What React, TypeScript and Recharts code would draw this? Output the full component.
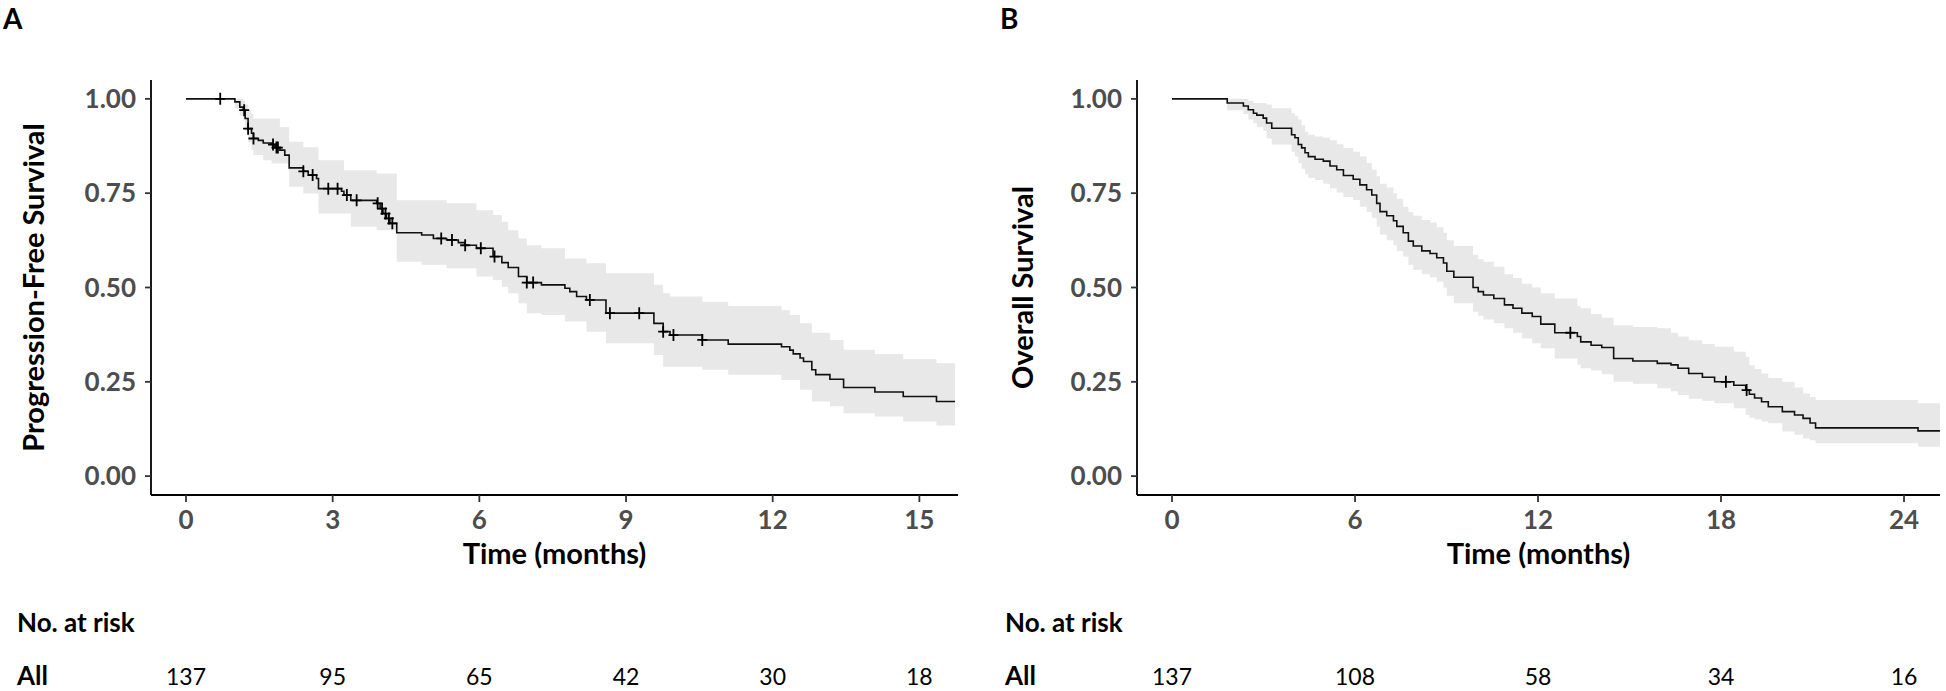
import { Area, ComposedChart, Label, Line, Scatter, XAxis, YAxis } from 'recharts';

const FONT = 'Lato, "Open Sans", sans-serif';
const TICK_GREY = '#4d4d4d';
const BAND = '#e8e8e8';

// Panel A: progression-free survival (months, KM estimate, 95% CI)
const pfsTime = [
  0, 1.0, 1.1, 1.17, 1.21, 1.27, 1.34, 1.38, 1.48, 1.58, 1.75, 1.82, 1.92, 2.02, 2.11, 2.4, 2.5,
  2.67, 2.71, 3.18, 3.23, 3.37, 3.9, 3.97, 4.03, 4.1, 4.17, 4.31, 4.82, 5.06, 5.33, 5.57, 5.71,
  5.94, 6.28, 6.46, 6.59, 6.8, 6.97, 7.27, 7.75, 7.85, 7.99, 8.19, 8.59, 9.57, 9.76, 9.9, 10.56,
  11.09, 12.18, 12.35, 12.42, 12.56, 12.63, 12.8, 12.88, 13.17, 13.45, 14.09, 14.67, 15.35, 15.73,
];
const pfsSurv = [
  1, 0.992, 0.978, 0.97, 0.948, 0.921, 0.909, 0.895, 0.89, 0.883, 0.879, 0.871, 0.864, 0.851,
  0.817, 0.808, 0.798, 0.789, 0.762, 0.755, 0.745, 0.731, 0.723, 0.709, 0.696, 0.683, 0.67, 0.645,
  0.639, 0.63, 0.626, 0.619, 0.612, 0.604, 0.582, 0.566, 0.553, 0.529, 0.513, 0.507, 0.498, 0.489,
  0.476, 0.467, 0.432, 0.405, 0.383, 0.374, 0.361, 0.35, 0.343, 0.334, 0.324, 0.313, 0.304, 0.282,
  0.269, 0.257, 0.235, 0.223, 0.211, 0.198, 0.198,
];
const pfsLower = [
  1, 0.975, 0.955, 0.945, 0.915, 0.885, 0.865, 0.851, 0.851, 0.837, 0.829, 0.829, 0.829, 0.829,
  0.767, 0.749, 0.749, 0.749, 0.696, 0.696, 0.696, 0.661, 0.652, 0.652, 0.652, 0.652, 0.652, 0.568,
  0.56, 0.56, 0.551, 0.551, 0.551, 0.529, 0.52, 0.502, 0.485, 0.458, 0.432, 0.427, 0.41, 0.41,
  0.41, 0.383, 0.352, 0.321, 0.29, 0.29, 0.282, 0.269, 0.255, 0.255, 0.255, 0.229, 0.229, 0.198,
  0.198, 0.185, 0.167, 0.158, 0.145, 0.134, 0.134,
];
const pfsUpper = [
  1, 1, 1, 0.995, 0.985, 0.97, 0.96, 0.948, 0.948, 0.948, 0.948, 0.948, 0.925, 0.925, 0.886,
  0.872, 0.872, 0.872, 0.837, 0.837, 0.811, 0.811, 0.802, 0.802, 0.802, 0.802, 0.802, 0.731, 0.731,
  0.731, 0.723, 0.723, 0.723, 0.705, 0.692, 0.674, 0.652, 0.63, 0.612, 0.604, 0.577, 0.577, 0.577,
  0.564, 0.538, 0.507, 0.485, 0.476, 0.462, 0.451, 0.44, 0.427, 0.427, 0.405, 0.405, 0.38, 0.38,
  0.361, 0.335, 0.324, 0.31, 0.299, 0.299,
];
const pfsCensor = [
  0.7, 1.19, 1.27, 1.38, 1.78, 1.85, 1.88, 2.4, 2.59, 2.91, 3.1, 3.29, 3.49, 3.92, 4.01, 4.08,
  4.15, 4.22, 5.22, 5.44, 5.71, 6.03, 6.31, 6.97, 7.1, 8.26, 8.67, 9.27, 9.76, 9.97, 10.56,
];

// Panel B: overall survival
const osTime = [
  0, 1.81, 2.34, 2.5, 2.67, 2.78, 2.99, 3.1, 3.27, 3.92, 4.03, 4.14, 4.25, 4.36, 4.47, 4.69, 4.96,
  5.18, 5.4, 5.62, 5.94, 6.16, 6.38, 6.55, 6.71, 6.82, 7.04, 7.26, 7.37, 7.58, 7.75, 7.91, 8.19,
  8.46, 8.68, 8.9, 9.01, 9.24, 9.87, 10.04, 10.21, 10.55, 10.9, 11.18, 11.47, 11.81, 12.09, 12.55,
  13.29, 13.4, 13.74, 14.09, 14.48, 15.11, 15.91, 16.36, 16.59, 16.94, 17.39, 17.79, 18.42, 18.81,
  18.93, 19.1, 19.33, 19.55, 20.01, 20.41, 20.69, 20.92, 21.1, 24.46, 25.18,
];
const osSurv = [
  1, 0.989, 0.981, 0.971, 0.962, 0.957, 0.949, 0.936, 0.922, 0.905, 0.897, 0.879, 0.87, 0.857,
  0.847, 0.84, 0.835, 0.822, 0.812, 0.797, 0.787, 0.772, 0.759, 0.745, 0.723, 0.701, 0.69, 0.677,
  0.662, 0.645, 0.623, 0.61, 0.597, 0.59, 0.579, 0.565, 0.543, 0.527, 0.5, 0.489, 0.48, 0.471,
  0.454, 0.445, 0.432, 0.423, 0.403, 0.38, 0.37, 0.356, 0.347, 0.341, 0.312, 0.305, 0.299, 0.295,
  0.286, 0.272, 0.262, 0.25, 0.241, 0.228, 0.217, 0.207, 0.197, 0.184, 0.171, 0.162, 0.153, 0.141,
  0.128, 0.12, 0.12,
];
const osLower = [
  1, 0.97, 0.96, 0.945, 0.936, 0.925, 0.915, 0.895, 0.879, 0.86, 0.847, 0.83, 0.815, 0.8, 0.79,
  0.785, 0.775, 0.763, 0.752, 0.74, 0.732, 0.714, 0.7, 0.685, 0.662, 0.64, 0.625, 0.612, 0.597,
  0.582, 0.56, 0.547, 0.535, 0.527, 0.515, 0.5, 0.478, 0.458, 0.436, 0.425, 0.415, 0.405, 0.392,
  0.38, 0.365, 0.352, 0.339, 0.312, 0.295, 0.286, 0.28, 0.27, 0.25, 0.245, 0.233, 0.225, 0.215,
  0.205, 0.2, 0.193, 0.18, 0.162, 0.155, 0.15, 0.145, 0.14, 0.118, 0.11, 0.1, 0.095, 0.087, 0.078,
  0.078,
];
const osUpper = [
  1, 1, 1, 0.995, 0.989, 0.989, 0.989, 0.985, 0.975, 0.962, 0.955, 0.945, 0.93, 0.913, 0.905, 0.9,
  0.897, 0.89, 0.88, 0.87, 0.86, 0.847, 0.83, 0.812, 0.795, 0.775, 0.765, 0.75, 0.735, 0.714, 0.7,
  0.69, 0.679, 0.672, 0.66, 0.645, 0.625, 0.61, 0.586, 0.575, 0.568, 0.555, 0.535, 0.525, 0.51,
  0.5, 0.485, 0.471, 0.45, 0.445, 0.43, 0.42, 0.4, 0.395, 0.392, 0.38, 0.37, 0.36, 0.35, 0.343,
  0.33, 0.316, 0.294, 0.284, 0.272, 0.26, 0.25, 0.235, 0.219, 0.21, 0.202, 0.193, 0.193,
];
const osCensor = [13.06, 18.16, 18.84];

// Numbers at risk
const pfsRiskTimes = [0, 3, 6, 9, 12, 15];
const pfsRiskCounts = [137, 95, 65, 42, 30, 18];
const osRiskTimes = [0, 6, 12, 18, 24];
const osRiskCounts = [137, 108, 58, 34, 16];

const yTicks = [0, 0.25, 0.5, 0.75, 1];

function buildCurve(time: number[], surv: number[], lo: number[], hi: number[]) {
  return time.map((t, i) => ({ t, s: surv[i], ci: [lo[i], hi[i]] }));
}

function survAt(time: number[], surv: number[], t: number) {
  let v = surv[0];
  for (let i = 0; i < time.length; i++) if (time[i] <= t) v = surv[i];
  return v;
}

const PlusMark = (props: any) => {
  const { cx, cy } = props;
  if (cx == null || cy == null) return null;
  return (
    <path
      d={`M${cx - 5},${cy}H${cx + 5}M${cx},${cy - 6}V${cy + 6}`}
      stroke="#000"
      strokeWidth={1.8}
      fill="none"
    />
  );
};

const RiskNumber = (props: any) => {
  const { cx, cy, payload } = props;
  return (
    <text x={cx} y={cy} textAnchor="middle" fontSize={23} fontFamily={FONT} fill="#000">
      {payload.n}
    </text>
  );
};

const tickStyle = { fill: TICK_GREY, fontSize: 26, fontWeight: 700, fontFamily: FONT };
const TITLE_SIZE = 29;

interface PanelProps {
  left: number;
  width: number;
  rightMargin: number;
  xDomain: [number, number];
  xTicks: number[];
  time: number[];
  surv: number[];
  lower: number[];
  upper: number[];
  censor: number[];
  riskTimes: number[];
  riskCounts: number[];
  yTitle: string;
  yTitleX: number;
}

function SurvivalPanel(p: PanelProps) {
  const curve = buildCurve(p.time, p.surv, p.lower, p.upper);
  const censorPts = p.censor.map((t) => ({ t, s: survAt(p.time, p.surv, t) }));
  const riskRow = p.riskTimes.map((t, i) => ({ t, y: 0, n: p.riskCounts[i] }));

  return (
    <>
      <div style={{ position: 'absolute', left: p.left, top: 0 }}>
        <ComposedChart
          width={p.width}
          height={600}
          margin={{ top: 80, right: p.rightMargin, bottom: 25, left: 0 }}
        >
          <XAxis
            type="number"
            dataKey="t"
            domain={p.xDomain}
            ticks={p.xTicks}
            interval={0}
            allowDataOverflow
            height={80}
            tickSize={7}
            tickMargin={9}
            tick={tickStyle}
            axisLine={{ stroke: '#000', strokeWidth: 1.8 }}
            tickLine={{ stroke: '#333', strokeWidth: 1.8 }}
          >
            <Label
              content={({ viewBox }: any) => (
                <text
                  x={viewBox.x + viewBox.width / 2}
                  y={viewBox.y + 69}
                  textAnchor="middle"
                  fontSize={TITLE_SIZE}
                  fontWeight={700}
                  fontFamily={FONT}
                  fill="#000"
                >
                  Time (months)
                </text>
              )}
            />
          </XAxis>
          <YAxis
            type="number"
            domain={[-0.05, 1.05]}
            ticks={yTicks}
            interval={0}
            allowDataOverflow
            width={151}
            tickSize={6}
            tickMargin={9}
            tick={tickStyle}
            tickFormatter={(v: number) => v.toFixed(2)}
            axisLine={{ stroke: '#000', strokeWidth: 1.8 }}
            tickLine={{ stroke: '#333', strokeWidth: 1.8 }}
          >
            <Label
              content={({ viewBox }: any) => {
                const x = viewBox.x + p.yTitleX;
                const y = viewBox.y + viewBox.height / 2;
                return (
                  <text
                    x={x}
                    y={y}
                    transform={`rotate(-90, ${x}, ${y})`}
                    textAnchor="middle"
                    fontSize={TITLE_SIZE}
                    fontWeight={700}
                    fontFamily={FONT}
                    fill="#000"
                  >
                    {p.yTitle}
                  </text>
                );
              }}
            />
          </YAxis>
          <Area
            data={curve}
            dataKey="ci"
            type="stepAfter"
            stroke="none"
            fill={BAND}
            fillOpacity={1}
            dot={false}
            activeDot={false}
            isAnimationActive={false}
          />
          <Line
            data={curve}
            dataKey="s"
            type="stepAfter"
            stroke="#111"
            strokeWidth={1.6}
            dot={false}
            activeDot={false}
            isAnimationActive={false}
          />
          <Scatter data={censorPts} dataKey="s" shape={PlusMark} isAnimationActive={false} />
        </ComposedChart>
      </div>
      <div style={{ position: 'absolute', left: p.left, top: 640 }}>
        <ComposedChart
          width={p.width}
          height={51}
          margin={{ top: 0, right: p.rightMargin, bottom: 6, left: 151 }}
        >
          <XAxis type="number" dataKey="t" domain={p.xDomain} allowDataOverflow hide />
          <YAxis type="number" domain={[0, 1]} hide />
          <Scatter data={riskRow} dataKey="y" shape={RiskNumber} isAnimationActive={false} />
        </ComposedChart>
      </div>
    </>
  );
}

export default function App() {
  return (
    <div
      style={{
        position: 'relative',
        width: 1946,
        height: 691,
        background: '#fff',
        overflow: 'hidden',
        fontFamily: FONT,
      }}
    >
      <style>{'body{margin:0}'}</style>
      <svg
        width={1946}
        height={691}
        style={{ position: 'absolute', left: 0, top: 0 }}
        fontFamily={FONT}
        fontWeight={700}
        fill="#000"
      >
        <text x={3} y={29} fontSize={28}>A</text>
        <text x={1000} y={29} fontSize={28}>B</text>
        <text x={17} y={632} fontSize={26}>No. at risk</text>
        <text x={17} y={685} fontSize={26}>All</text>
        <text x={1005} y={632} fontSize={26}>No. at risk</text>
        <text x={1005} y={685} fontSize={26}>All</text>
      </svg>
      <SurvivalPanel
        left={0}
        width={980}
        rightMargin={22}
        xDomain={[-0.716, 15.79]}
        xTicks={[0, 3, 6, 9, 12, 15]}
        time={pfsTime}
        surv={pfsSurv}
        lower={pfsLower}
        upper={pfsUpper}
        censor={pfsCensor}
        riskTimes={pfsRiskTimes}
        riskCounts={pfsRiskCounts}
        yTitle="Progression-Free Survival"
        yTitleX={44}
      />
      <SurvivalPanel
        left={986}
        width={960}
        rightMargin={6}
        xDomain={[-1.148, 25.18]}
        xTicks={[0, 6, 12, 18, 24]}
        time={osTime}
        surv={osSurv}
        lower={osLower}
        upper={osUpper}
        censor={osCensor}
        riskTimes={osRiskTimes}
        riskCounts={osRiskCounts}
        yTitle="Overall Survival"
        yTitleX={47}
      />
    </div>
  );
}
